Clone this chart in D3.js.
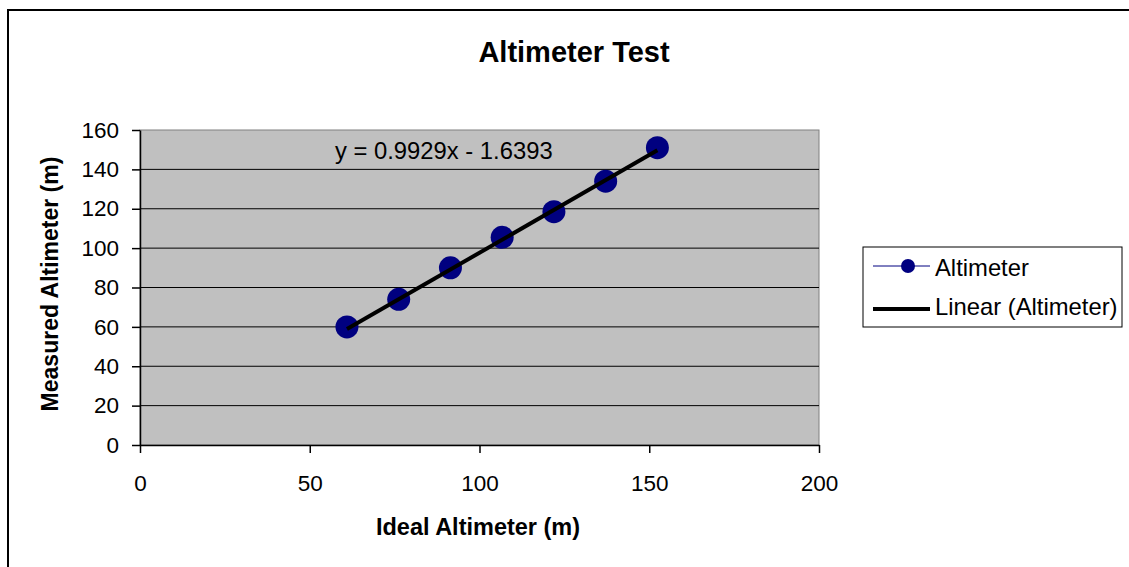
<!DOCTYPE html>
<html><head><meta charset="utf-8">
<script src="https://cdn.jsdelivr.net/npm/d3@7"></script>
<style>body{margin:0;background:#fff}svg{display:block;font-family:"Liberation Sans",Arial,sans-serif}</style>
</head><body>
<script>
const idealAltitude = [60.96, 76.2, 91.44, 106.68, 121.92, 137.16, 152.4];
const measuredAltitude = [60, 74, 90, 105.5, 118.5, 134, 151];
const trendCoefficients = [0.9929, -1.6393];
const xTicks = [0, 50, 100, 150, 200];
const yTicks = [0, 20, 40, 60, 80, 100, 120, 140, 160];
const seriesNames = ["Altimeter", "Linear (Altimeter)"];

const W = 1129, H = 567;
const FONT = "Liberation Sans, Arial, sans-serif";
const svg = d3.select("body").append("svg").attr("width", W).attr("height", H);

// outer frame
svg.append("rect").attr("x", 8).attr("y", 10).attr("width", 1140).attr("height", 600)
  .attr("fill", "none").attr("stroke", "#000").attr("stroke-width", 2);

const L = 140, R = 819, T = 130, B = 445;
const x = d3.scaleLinear().domain([0, 200]).range([L, R]);
const y = d3.scaleLinear().domain([0, 160]).range([B, T]);

svg.append("rect").attr("x", L).attr("y", T).attr("width", R - L).attr("height", B - T)
  .attr("fill", "#c0c0c0").attr("stroke", "#808080").attr("stroke-width", 1);

// gridlines
svg.append("g").selectAll("line").data(yTicks.filter(d => d > 0 && d < 160)).join("line")
  .attr("x1", L).attr("x2", R).attr("y1", d => y(d)).attr("y2", d => y(d))
  .attr("stroke", "#000").attr("stroke-width", 1);

// axes
const xAxis = svg.append("g").attr("transform", `translate(0,${B})`)
  .call(d3.axisBottom(x).tickValues(xTicks).tickSizeInner(8).tickSizeOuter(0).tickPadding(22));
const yAxis = svg.append("g").attr("transform", `translate(${L},0)`)
  .call(d3.axisLeft(y).tickValues(yTicks).tickSizeInner(8).tickSizeOuter(0).tickPadding(13));
[xAxis, yAxis].forEach(g => {
  g.attr("font-size", 22.5).attr("font-family", FONT);
  g.select(".domain").attr("stroke", "#000").attr("stroke-width", 1.5);
  g.selectAll(".tick line").attr("stroke", "#000").attr("stroke-width", 1.5);
  g.selectAll(".tick text").attr("fill", "#000");
});

// points
const xMin = d3.min(idealAltitude), xMax = d3.max(idealAltitude);
const f = v => trendCoefficients[0] * v + trendCoefficients[1];
svg.append("g").selectAll("circle").data(idealAltitude).join("circle")
  .attr("cx", d => x(d)).attr("cy", (d, i) => y(measuredAltitude[i])).attr("r", 11.5)
  .attr("fill", "#000080");
// trendline on top
svg.append("line").attr("x1", x(xMin)).attr("y1", y(f(xMin))).attr("x2", x(xMax)).attr("y2", y(f(xMax)))
  .attr("stroke", "#000").attr("stroke-width", 4);

// equation
svg.append("text").attr("x", 335).attr("y", 159).attr("font-size", 23.8).attr("fill", "#000")
  .text(`y = ${trendCoefficients[0]}x - ${Math.abs(trendCoefficients[1])}`);

// titles
svg.append("text").attr("x", 574).attr("y", 62).attr("text-anchor", "middle")
  .attr("font-size", 29).attr("font-weight", "bold").text("Altimeter Test");
svg.append("text").attr("x", 478).attr("y", 535).attr("text-anchor", "middle")
  .attr("font-size", 23.5).attr("font-weight", "bold").text("Ideal Altimeter (m)");
svg.append("text").attr("transform", `translate(58,284) rotate(-90)`).attr("text-anchor", "middle")
  .attr("font-size", 23).attr("font-weight", "bold").text("Measured Altimeter (m)");

// legend
const lg = svg.append("g");
lg.append("rect").attr("x", 863).attr("y", 247).attr("width", 259).attr("height", 80)
  .attr("fill", "#fff").attr("stroke", "#000").attr("stroke-width", 1);
lg.append("line").attr("x1", 873).attr("x2", 930).attr("y1", 266).attr("y2", 266)
  .attr("stroke", "#000080").attr("stroke-width", 1);
lg.append("circle").attr("cx", 908).attr("cy", 266).attr("r", 7).attr("fill", "#000080");
lg.append("line").attr("x1", 873).attr("x2", 930).attr("y1", 309).attr("y2", 309)
  .attr("stroke", "#000").attr("stroke-width", 4);
lg.selectAll("text").data(seriesNames).join("text").attr("x", 935).attr("y", (d, i) => 276 + i * 39)
  .attr("font-size", 23.8).text(d => d);
</script>
</body></html>
